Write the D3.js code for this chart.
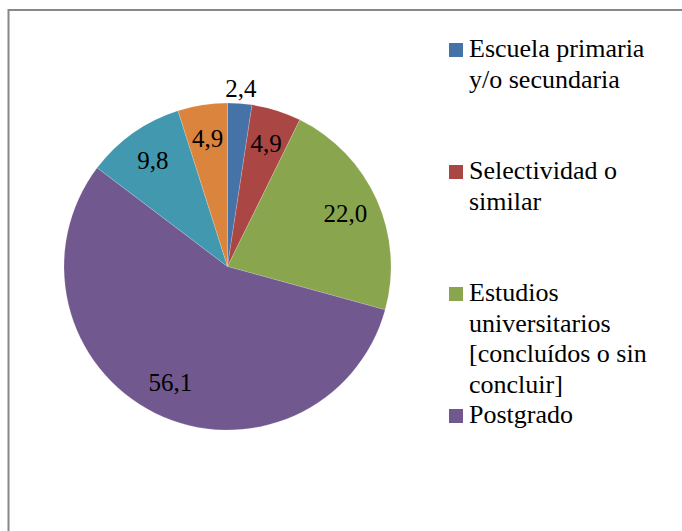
<!DOCTYPE html>
<html>
<head>
<meta charset="utf-8">
<script src="https://cdn.jsdelivr.net/npm/d3@7"></script>
<style>
  html, body { margin: 0; padding: 0; background: #fff; }
  svg { display: block; }
  svg text { font-family: "Times New Roman", "Liberation Serif", Tinos, Times, "DejaVu Serif", serif; }
</style>
</head>
<body>
<div id="chart"></div>
<script>
"use strict";

// slices, clockwise from 12 o'clock
const categories = [
  "Escuela primaria y/o secundaria",
  "Selectividad o similar",
  "Estudios universitarios [concluídos o sin concluir]",
  "Postgrado",
  "cat5",
  "cat6"
];
const values = [2.4, 4.9, 22.0, 56.1, 9.8, 4.9];
const valueLabels = ["2,4", "4,9", "22,0", "56,1", "9,8", "4,9"];
const colors = ["#4572A7", "#AA4643", "#89A54E", "#71588F", "#4198AF", "#DB843D"];

// legend text as wrapped in the original (only four entries fit in the box)
const legendLines = [
  ["Escuela primaria", "y/o secundaria"],
  ["Selectividad o", "similar"],
  ["Estudios", "universitarios", "[concluídos o sin", "concluir]"],
  ["Postgrado"]
];

const width = 682, height = 531;
const cx = 227.5, cy = 266.5, radius = 163.5;

const svg = d3.select("#chart").append("svg")
    .attr("width", width)
    .attr("height", height);

// chart area border (right and bottom edges run off the picture)
svg.append("rect")
    .attr("x", 8.5)
    .attr("y", 10)
    .attr("width", 800)
    .attr("height", 800)
    .attr("fill", "#fff")
    .attr("stroke", "#878787")
    .attr("stroke-width", 2);

const pie = d3.pie().sort(null).value(d => d);
const arcs = pie(values);

const arc = d3.arc().innerRadius(0).outerRadius(radius);
const labelArc = d3.arc().innerRadius(radius * 0.79).outerRadius(radius * 0.79);
const outsideArc = d3.arc().innerRadius(radius * 1.09).outerRadius(radius * 1.09);

const g = svg.append("g").attr("transform", `translate(${cx},${cy})`);

g.selectAll("path")
  .data(arcs)
  .join("path")
    .attr("d", arc)
    .attr("fill", (d, i) => colors[i])
    .attr("stroke", "#fff")
    .attr("stroke-width", 0.5)
    .attr("stroke-opacity", 0.35);

// small slices get their label outside ("best fit")
g.selectAll("text")
  .data(arcs)
  .join("text")
    .attr("transform", d => {
      const share = (d.endAngle - d.startAngle) / (2 * Math.PI);
      const p = share < 0.03 ? outsideArc.centroid(d) : labelArc.centroid(d);
      return `translate(${p[0]},${p[1]})`;
    })
    .attr("text-anchor", "middle")
    .attr("dy", "0.33em")
    .attr("font-size", 25)
    .attr("fill", "#000")
    .text((d, i) => valueLabels[i]);

// legend
const legendX = 449, legendTop = 57, entryStep = 122, lineStep = 30.5, box = 14;

const entry = svg.append("g")
  .selectAll("g")
  .data(legendLines)
  .join("g")
    .attr("transform", (d, i) => `translate(${legendX},${legendTop + i * entryStep})`);

entry.append("rect")
    .attr("x", 0)
    .attr("y", -box)
    .attr("width", box)
    .attr("height", box)
    .attr("fill", (d, i) => colors[i]);

entry.append("text")
    .attr("font-size", 26)
    .attr("fill", "#000")
  .selectAll("tspan")
  .data(d => d)
  .join("tspan")
    .attr("x", 20)
    .attr("y", (d, i) => i * lineStep)
    .text(d => d);
</script>
</body>
</html>
